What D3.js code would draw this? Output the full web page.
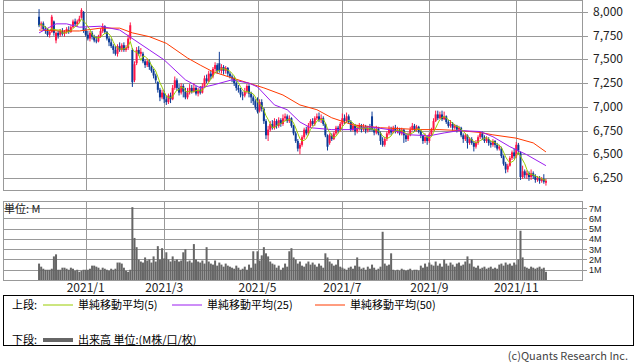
<!DOCTYPE html>
<html>
<head>
<meta charset="utf-8">
<script src="https://cdnjs.cloudflare.com/ajax/libs/d3/7.8.5/d3.min.js"></script>
<style>
body{margin:0;background:#fff;}
svg{display:block;font-family:"Noto Sans CJK JP","Noto Sans",sans-serif;}
</style>
</head>
<body>
<svg id="chart"></svg>
<script>
// TSE closed days in the window
var holidays = ["2020-12-31","2021-01-01","2021-01-11","2021-02-11","2021-02-23","2021-04-29",
  "2021-05-03","2021-05-04","2021-05-05","2021-07-22","2021-07-23","2021-08-09",
  "2021-09-20","2021-09-23","2021-11-03"];
var firstDay = "2020-12-01", lastDay = "2021-11-22";
var monthTicks = ["2021/1","2021/3","2021/5","2021/7","2021/9","2021/11"];
var priceTicks = [6250,6500,6750,7000,7250,7500,7750,8000];
var volTicks = [1,2,3,4,5,6,7];

var opens = [
7950,7860,7880,7820,7800,7760,7790,7900,7700,7780,
7760,7800,7770,7790,7810,7790,7840,7900,7870,7900,
7940,8000,7800,7760,7720,7780,7740,7700,7690,7740,
7800,7850,7790,7720,7680,7640,7600,7560,7640,7600,
7650,7600,7620,7720,7600,7280,7460,7600,7560,7560,
7480,7440,7480,7420,7380,7330,7260,7180,7100,7150,
7080,7050,7120,7080,7200,7280,7200,7150,7220,7160,
7100,7150,7200,7160,7200,7140,7180,7150,7220,7300,
7270,7350,7320,7400,7440,7460,7380,7420,7380,7410,
7350,7320,7300,7250,7200,7180,7130,7120,7160,7220,
7140,7100,7060,7000,6960,7050,6980,6850,6700,6760,
6820,6780,6850,6800,6860,6820,6880,6900,6850,6880,
6800,6720,6640,6560,6600,6680,6760,6720,6800,6850,
6820,6880,6900,6860,6880,6820,6700,6620,6700,6660,
6720,6780,6750,6820,6880,6850,6900,6840,6760,6800,
6740,6780,6800,6760,6790,6750,6780,6900,6760,6730,
6770,6720,6640,6600,6660,6720,6760,6730,6780,6740,
6760,6720,6760,6700,6660,6700,6760,6800,6760,6790,
6740,6700,6640,6680,6640,6710,6760,6850,6920,6880,
6920,6870,6900,6840,6800,6820,6780,6800,6760,6780,
6700,6660,6700,6620,6660,6620,6580,6620,6680,6720,
6680,6640,6660,6620,6600,6640,6600,6560,6560,6480,
6400,6340,6380,6460,6520,6480,6600,6520,6260,6320,
6280,6300,6260,6300,6270,6230,6250,6220,6240,6200];

var highs = [
8030,7900,7900,7850,7830,7810,7970,7910,7790,7800,
7820,7830,7810,7840,7850,7860,7920,7930,7920,7960,
8040,8010,7830,7800,7800,7800,7760,7740,7760,7830,
7880,7860,7800,7740,7720,7660,7640,7660,7680,7670,
7680,7650,7760,7890,7620,7480,7630,7640,7620,7580,
7500,7510,7500,7440,7400,7350,7270,7200,7180,7170,
7120,7140,7150,7230,7320,7300,7240,7250,7240,7200,
7200,7240,7230,7250,7220,7200,7220,7250,7330,7340,
7380,7380,7420,7470,7460,7580,7450,7440,7430,7420,
7370,7340,7320,7270,7230,7200,7160,7200,7240,7240,
7160,7120,7080,7100,7080,7080,6990,6870,6800,6850,
6860,6880,6870,6890,6880,6920,6930,6920,6910,6890,
6810,6740,6660,6620,6700,6780,6790,6830,6870,6880,
6900,6930,6940,6920,6900,6830,6710,6720,6720,6740,
6800,6800,6840,6930,6920,6940,6920,6860,6830,6820,
6810,6830,6820,6820,6810,6800,6820,6950,6780,6800,
6790,6740,6680,6680,6740,6800,6790,6800,6810,6790,
6780,6780,6770,6720,6730,6790,6830,6820,6810,6800,
6760,6710,6720,6700,6730,6780,6880,6960,6960,6950,
6960,6950,6910,6860,6860,6840,6820,6810,6800,6790,
6720,6720,6710,6680,6680,6640,6650,6700,6740,6740,
6700,6690,6680,6640,6660,6650,6620,6600,6580,6490,
6420,6400,6480,6540,6560,6630,6620,6530,6380,6340,
6330,6320,6340,6320,6290,6270,6270,6260,6290,6240];

var lows = [
7840,7820,7800,7770,7740,7730,7780,7750,7670,7720,
7740,7750,7740,7770,7770,7780,7830,7850,7850,7880,
7930,7780,7740,7700,7690,7710,7680,7670,7680,7730,
7780,7770,7700,7640,7620,7560,7540,7530,7580,7580,
7580,7580,7600,7700,7210,7260,7440,7540,7530,7460,
7410,7420,7390,7360,7300,7250,7150,7060,7080,7040,
7020,7030,7040,7070,7180,7170,7120,7130,7100,7080,
7080,7130,7140,7150,7120,7110,7130,7140,7200,7250,
7260,7290,7300,7370,7350,7360,7350,7340,7350,7320,
7300,7260,7220,7170,7150,7100,7070,7100,7140,7100,
7040,7020,6970,6930,6940,6950,6820,6660,6640,6740,
6760,6760,6770,6780,6790,6800,6850,6830,6830,6780,
6700,6620,6530,6500,6580,6660,6700,6700,6780,6800,
6800,6860,6840,6830,6800,6680,6540,6600,6640,6650,
6700,6720,6740,6800,6820,6830,6820,6740,6740,6700,
6720,6750,6730,6740,6720,6730,6740,6740,6700,6710,
6700,6600,6580,6580,6640,6700,6700,6720,6720,6720,
6700,6700,6620,6630,6640,6690,6750,6740,6740,6720,
6670,6610,6620,6600,6620,6690,6750,6840,6860,6870,
6850,6860,6820,6780,6780,6750,6760,6730,6740,6680,
6620,6640,6560,6600,6600,6530,6560,6600,6660,6650,
6620,6620,6590,6570,6580,6570,6540,6540,6460,6380,
6300,6310,6370,6440,6450,6460,6500,6230,6240,6250,
6240,6220,6230,6240,6200,6210,6190,6200,6190,6170];

var closes = [
7860,7880,7820,7800,7760,7790,7950,7780,7780,7750,
7800,7770,7790,7820,7790,7840,7900,7870,7900,7930,
8020,7800,7760,7720,7780,7740,7700,7690,7740,7800,
7850,7790,7720,7680,7640,7600,7560,7640,7600,7650,
7600,7620,7720,7860,7260,7450,7600,7560,7580,7480,
7440,7480,7420,7380,7330,7280,7180,7100,7150,7080,
7050,7120,7080,7200,7280,7200,7150,7220,7160,7100,
7150,7200,7160,7200,7140,7180,7150,7220,7300,7270,
7350,7320,7400,7440,7380,7380,7420,7380,7410,7350,
7320,7300,7250,7200,7180,7130,7120,7160,7220,7140,
7100,7060,7000,6950,7050,6980,6850,6700,6760,6820,
6780,6850,6800,6860,6820,6880,6900,6850,6880,6800,
6720,6640,6560,6600,6680,6760,6720,6800,6850,6820,
6880,6900,6860,6880,6820,6700,6580,6700,6660,6720,
6780,6750,6820,6880,6850,6900,6840,6760,6800,6740,
6780,6800,6760,6790,6750,6780,6760,6760,6730,6770,
6720,6640,6600,6660,6720,6760,6730,6780,6740,6760,
6720,6760,6700,6660,6700,6760,6800,6760,6790,6740,
6700,6640,6680,6640,6710,6760,6850,6920,6880,6920,
6870,6900,6840,6800,6820,6780,6800,6760,6780,6700,
6660,6700,6620,6660,6620,6580,6620,6680,6720,6680,
6640,6660,6620,6600,6640,6600,6560,6580,6480,6400,
6340,6380,6460,6520,6480,6600,6540,6260,6320,6280,
6300,6260,6300,6270,6230,6250,6220,6240,6210,6220];

// volume in millions of shares
var volumes = [
1.6,1.3,1.1,1.0,1.0,1.0,1.1,2.3,2.5,1.0,
1.0,1.2,1.2,1.1,1.0,1.2,1.1,0.9,1.0,0.8,
0.9,1.0,1.0,1.0,1.1,1.4,1.4,1.3,1.2,1.0,
1.2,1.1,1.0,0.9,1.1,1.0,1.1,1.7,1.7,1.6,
1.2,0.9,0.8,1.0,7.1,4.1,3.2,2.0,1.8,1.7,
2.2,1.9,2.0,1.7,2.3,1.8,3.3,2.0,3.1,2.1,
2.7,2.0,1.8,2.3,1.9,2.0,1.8,1.9,2.7,3.0,
1.8,1.9,1.7,3.5,2.0,1.8,1.7,1.9,1.6,3.2,
1.8,1.6,1.5,1.9,1.4,1.7,1.5,1.3,1.6,1.4,
1.3,1.2,1.1,1.4,1.2,1.0,1.1,1.3,1.0,1.5,
1.2,2.8,1.6,2.8,1.9,2.4,3.2,2.6,2.3,1.8,
1.6,1.5,1.2,1.4,1.0,1.2,1.6,1.3,2.8,3.1,
2.2,2.0,1.6,1.8,1.4,1.3,1.6,1.8,1.5,1.7,
1.5,1.3,1.6,1.4,1.2,2.6,2.2,1.8,1.6,1.4,
1.5,2.0,1.3,1.2,1.1,1.0,1.2,1.3,1.1,1.4,
2.2,1.3,1.1,1.2,1.0,1.3,1.1,1.5,1.2,1.0,
1.1,1.3,4.7,1.6,1.4,1.5,2.6,1.0,0.9,1.0,
0.9,1.1,1.0,0.9,1.0,1.1,0.9,1.0,1.0,0.9,
1.4,1.2,1.6,1.3,1.7,1.5,1.4,1.8,1.4,1.6,
1.3,2.0,1.6,1.4,1.7,1.5,1.3,1.6,1.7,1.4,
1.5,1.8,2.3,1.6,2.0,1.3,1.2,1.4,1.1,1.2,
1.3,1.1,1.2,1.3,1.1,1.2,1.1,1.5,1.6,1.4,
1.7,1.5,1.6,1.4,1.7,1.5,2.0,4.8,2.2,1.3,
1.2,1.1,1.3,1.2,1.1,1.2,1.3,1.1,1.2,0.8];

// 25 / 50 day averages: [day index, value]
var ma25 = [[0,7780],[5,7840],[8,7875],[13,7875],[19,7840],[29,7850],[38,7810],[43,7735],
  [52,7600],[59,7495],[69,7285],[76,7200],[82,7230],[91,7285],[99,7250],[103,7210],
  [111,7020],[117,6970],[123,6840],[128,6780],[138,6760],[147,6760],[156,6790],[165,6760],
  [175,6705],[184,6695],[191,6725],[198,6750],[208,6740],[214,6685],[222,6580],[230,6495],[239,6380]];
var ma50 = [[0,7810],[10,7800],[19,7800],[29,7830],[38,7830],[44,7780],[52,7740],[60,7670],
  [70,7515],[76,7440],[82,7370],[91,7305],[106,7200],[115,7125],[123,7020],[131,6970],
  [138,6885],[148,6810],[161,6780],[180,6760],[189,6760],[198,6750],[208,6730],[214,6705],
  [225,6670],[233,6620],[239,6525]];

var upColor = "#ff1446", downColor = "#0b3a96";
var ma5Color = "#99cc00", ma25Color = "#9b1cf0", ma50Color = "#ff3a00";
var gridColor = "#999";

var fmt = d3.timeFormat("%Y-%m-%d");
var dates = d3.timeDay.range(new Date(firstDay + "T00:00"), d3.timeDay.offset(new Date(lastDay + "T00:00"), 1))
  .filter(function(d){
    return d.getDay() > 0 && d.getDay() < 6 && holidays.indexOf(fmt(d)) < 0;
  });

var data = dates.map(function(d,i){
  var from = Math.max(0, i-4);
  return {
    date:d, o:opens[i], h:highs[i], l:lows[i], c:closes[i], v:volumes[i],
    ma5:d3.mean(closes.slice(from, i+1))
  };
});

var W = 638, H = 362;
var plot = {left:3, right:582, top:0, bot:190};
var vol = {top:201, bot:280};

var svg = d3.select("#chart").attr("width",W).attr("height",H);

var x = d3.scaleLinear()
  .domain([-17, data.length-1+17])
  .range([plot.left, plot.right]);
var y = d3.scaleLinear().domain([6123.5, 8126.5]).range([plot.bot, plot.top]);
var yv = d3.scaleLinear().domain([0, 7.7]).range([vol.bot, vol.top]);

// first trading day of each labelled month
var monthIdx = monthTicks.map(function(t){
  var p = t.split("/");
  return d3.bisectLeft(dates, new Date(+p[0], +p[1]-1, 1));
});

function crisp(v){ return Math.round(v)+0.5; }

// grid - price pane
var g1 = svg.append("g");
g1.selectAll("line.h").data(priceTicks).enter().append("line")
  .attr("x1",plot.left).attr("x2",plot.right+6)
  .attr("y1",function(d){return crisp(y(d));}).attr("y2",function(d){return crisp(y(d));})
  .attr("stroke",gridColor);
g1.selectAll("line.v").data(monthIdx).enter().append("line")
  .attr("x1",function(d){return crisp(x(d));}).attr("x2",function(d){return crisp(x(d));})
  .attr("y1",plot.top).attr("y2",plot.bot)
  .attr("stroke",gridColor);
g1.append("rect")
  .attr("x",plot.left+0.5).attr("y",plot.top+0.5)
  .attr("width",plot.right-plot.left).attr("height",plot.bot-plot.top)
  .attr("fill","none").attr("stroke",gridColor);
g1.selectAll("text").data(priceTicks).enter().append("text")
  .attr("x",593).attr("y",function(d){return y(d)+4;})
  .attr("font-size",12).attr("fill","#222")
  .text(d3.format(","));

// grid - volume pane
var g2 = svg.append("g");
g2.selectAll("line.h").data(volTicks).enter().append("line")
  .attr("x1",plot.left).attr("x2",plot.right+5)
  .attr("y1",function(d){return crisp(yv(d));}).attr("y2",function(d){return crisp(yv(d));})
  .attr("stroke",gridColor);
g2.selectAll("line.v").data(monthIdx).enter().append("line")
  .attr("x1",function(d){return crisp(x(d));}).attr("x2",function(d){return crisp(x(d));})
  .attr("y1",vol.top).attr("y2",vol.bot)
  .attr("stroke",gridColor);
g2.append("rect")
  .attr("x",plot.left+0.5).attr("y",vol.top+0.5)
  .attr("width",plot.right-plot.left).attr("height",vol.bot-vol.top)
  .attr("fill","none").attr("stroke",gridColor);
g2.selectAll("text").data(volTicks).enter().append("text")
  .attr("x",589).attr("y",function(d){return yv(d)+3.5;})
  .attr("font-family","Liberation Sans, sans-serif")
  .attr("font-size",9).attr("fill","#222")
  .text(function(d){return d+"M";});
g2.append("text").attr("x",4).attr("y",213).attr("font-size",11).attr("fill","#222").text("単位: M");

// month labels
svg.selectAll("text.month").data(monthIdx).enter().append("text")
  .attr("x",function(d){return x(d);}).attr("y",292)
  .attr("text-anchor","middle").attr("font-size",12).attr("fill","#222")
  .text(function(d,i){return monthTicks[i];});

// volume bars
svg.append("g").selectAll("rect").data(data).enter().append("rect")
  .attr("x",function(d,i){return x(i)-1;})
  .attr("width",2)
  .attr("y",function(d){return yv(d.v);})
  .attr("height",function(d){return vol.bot-yv(d.v);})
  .attr("fill","#666");

// candles
var candles = svg.append("g").selectAll("g").data(data).enter().append("g");
candles.append("line")
  .attr("x1",function(d,i){return x(i);}).attr("x2",function(d,i){return x(i);})
  .attr("y1",function(d){return y(d.h);}).attr("y2",function(d){return y(d.l);})
  .attr("stroke",function(d){return d.c>=d.o ? upColor : downColor;})
  .attr("stroke-width",1);
candles.append("rect")
  .attr("x",function(d,i){return x(i)-1;})
  .attr("width",2)
  .attr("y",function(d){return y(Math.max(d.o,d.c));})
  .attr("height",function(d){return Math.max(1, Math.abs(y(d.o)-y(d.c)));})
  .attr("fill",function(d){return d.c>=d.o ? upColor : downColor;});

// moving averages
var line = d3.line().x(function(d){return x(d[0]);}).y(function(d){return y(d[1]);});
svg.append("path").datum(ma50).attr("d",line).attr("fill","none").attr("stroke",ma50Color).attr("stroke-width",1);
svg.append("path").datum(ma25).attr("d",line).attr("fill","none").attr("stroke",ma25Color).attr("stroke-width",1);
svg.append("path").datum(data.map(function(d,i){return [i,d.ma5];}))
  .attr("d",line).attr("fill","none").attr("stroke",ma5Color).attr("stroke-width",1);

// legend
var lg = svg.append("g");
lg.append("rect").attr("x",3.5).attr("y",295.5).attr("width",630).attr("height",50)
  .attr("fill","none").attr("stroke","#000");
var items = [
  {x:43, y:305, color:ma5Color, w:1, label:"単純移動平均(5)"},
  {x:172, y:305, color:ma25Color, w:1, label:"単純移動平均(25)"},
  {x:315, y:305, color:ma50Color, w:1, label:"単純移動平均(50)"},
  {x:43, y:340, color:"#666", w:4, label:"出来高 単位:(M株/口/枚)"}
];
lg.append("text").attr("x",12).attr("y",309).attr("font-size",11).text("上段:");
lg.append("text").attr("x",12).attr("y",344).attr("font-size",11).text("下段:");
lg.selectAll("line").data(items).enter().append("line")
  .attr("x1",function(d){return d.x;}).attr("x2",function(d){return d.x+30;})
  .attr("y1",function(d){return d.y;}).attr("y2",function(d){return d.y;})
  .attr("stroke",function(d){return d.color;}).attr("stroke-width",function(d){return d.w;});
lg.selectAll("text.item").data(items).enter().append("text")
  .attr("x",function(d){return d.x+35;}).attr("y",function(d){return d.y+4;})
  .attr("font-size",11)
  .text(function(d){return d.label;});

svg.append("text").attr("x",628).attr("y",360).attr("text-anchor","end")
  .attr("font-size",11).attr("fill","#444").text("(c)Quants Research Inc.");
</script>
</body>
</html>
